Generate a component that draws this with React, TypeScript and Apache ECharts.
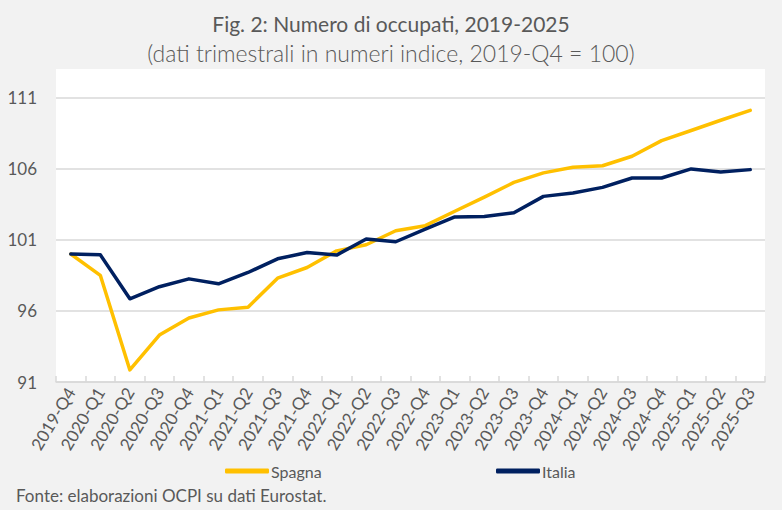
import React, { useEffect, useRef } from "react";
import * as echarts from "echarts";

const categories = [
  "2019-Q4", "2020-Q1", "2020-Q2", "2020-Q3", "2020-Q4", "2021-Q1", "2021-Q2", "2021-Q3",
  "2021-Q4", "2022-Q1", "2022-Q2", "2022-Q3", "2022-Q4", "2023-Q1", "2023-Q2", "2023-Q3",
  "2023-Q4", "2024-Q1", "2024-Q2", "2024-Q3", "2024-Q4", "2025-Q1", "2025-Q2", "2025-Q3",
];

const spagna = [
  100, 98.5, 91.85, 94.3, 95.5, 96.07, 96.26, 98.3,
  99.05, 100.22, 100.65, 101.63, 101.99, 103.0, 104.0, 105.03,
  105.7, 106.09, 106.2, 106.87, 107.97, 108.68, 109.4, 110.1,
];

const italia = [
  100, 99.94, 96.85, 97.7, 98.25, 97.9, 98.7, 99.66,
  100.1, 99.92, 101.05, 100.86, 101.75, 102.6, 102.64, 102.9,
  104.05, 104.29, 104.68, 105.34, 105.34, 105.98, 105.77, 105.93,
];

const yTicks = { min: 91, max: 111, interval: 5 };

const titleText = "Fig. 2: Numero di occupati, 2019-2025";
const subtitleText = "(dati trimestrali in numeri indice, 2019-Q4 = 100)";
const sourceText = "Fonte: elaborazioni OCPI su dati Eurostat.";

const FONT = "Lato, 'Open Sans', sans-serif";
const GREY = "#595959";
const YELLOW = "#ffc000";
const NAVY = "#002060";

export default function App() {
  const ref = useRef<HTMLDivElement>(null);

  useEffect(() => {
    if (!ref.current) return;
    const chart = echarts.init(ref.current, undefined, { renderer: "svg" });
    chart.setOption({
      animation: false,
      backgroundColor: "#f2f2f2",
      textStyle: { fontFamily: FONT },
      title: [
        {
          text: titleText,
          left: "center",
          top: 8,
          textStyle: { fontFamily: FONT, fontSize: 21, fontWeight: "normal", color: GREY },
        },
        {
          text: subtitleText,
          left: "center",
          top: 36,
          textStyle: { fontFamily: FONT, fontSize: 23, fontWeight: 300, color: GREY },
        },
      ],
      graphic: [
        {
          type: "rect",
          z: -10,
          silent: true,
          shape: { x: 56, y: 69, width: 709, height: 313 },
          style: { fill: "#ffffff" },
        },
        {
          type: "text",
          left: 16,
          top: 487,
          style: { text: sourceText, fill: GREY, fontSize: 17, fontFamily: FONT },
        },
      ],
      legend: [
        {
          data: ["Spagna"],
          left: 220,
          top: 458,
          icon: "roundRect",
          itemWidth: 44,
          itemHeight: 5,
          textStyle: { color: GREY, fontSize: 16, fontFamily: FONT, padding: [0, 0, 0, -3] },
        },
        {
          data: ["Italia"],
          left: 491,
          top: 458,
          icon: "roundRect",
          itemWidth: 44,
          itemHeight: 5,
          textStyle: { color: GREY, fontSize: 16, fontFamily: FONT, padding: [0, 0, 0, -3] },
        },
      ],
      grid: { left: 56, right: 17, top: 97.5, bottom: 128, containLabel: false },
      xAxis: {
        type: "category",
        data: categories,
        boundaryGap: true,
        axisLine: { show: true, lineStyle: { color: "#d9d9d9", width: 1.5 } },
        axisTick: { show: true, inside: true, length: 6, alignWithLabel: false, lineStyle: { color: "#d9d9d9", width: 1.5 } },
        axisLabel: { interval: 0, rotate: 59, color: GREY, fontSize: 17, fontFamily: FONT, margin: 7 },
        splitLine: { show: false },
      },
      yAxis: {
        type: "value",
        min: yTicks.min,
        max: yTicks.max,
        interval: yTicks.interval,
        axisLine: { show: false },
        axisTick: { show: false },
        axisLabel: { color: GREY, fontSize: 17, fontFamily: FONT, margin: 19 },
        splitLine: { show: true, lineStyle: { color: "#d9d9d9", width: 1.5 } },
      },
      series: [
        {
          name: "Spagna",
          type: "line",
          data: spagna,
          symbol: "none",
          lineStyle: { color: YELLOW, width: 3.5, cap: "round", join: "round" },
          itemStyle: { color: YELLOW },
          z: 2,
        },
        {
          name: "Italia",
          type: "line",
          data: italia,
          symbol: "none",
          lineStyle: { color: NAVY, width: 3.5, cap: "round", join: "round" },
          itemStyle: { color: NAVY },
          z: 3,
        },
      ],
    });
    return () => chart.dispose();
  }, []);

  return <div ref={ref} style={{ width: 782, height: 510, position: "absolute", left: 0, top: 0 }} />;
}
